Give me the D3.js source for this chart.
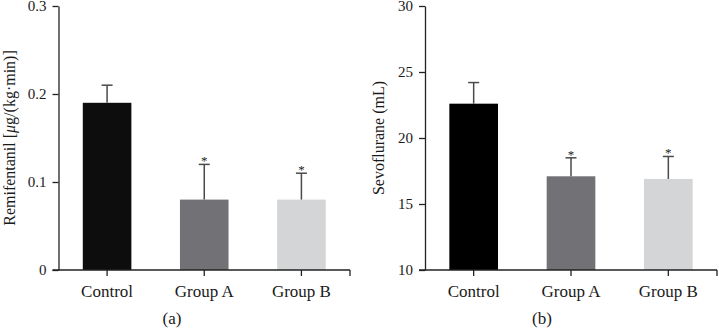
<!DOCTYPE html>
<html>
<head>
<meta charset="utf-8">
<script src="https://cdn.jsdelivr.net/npm/d3@7"></script>
<style>
  html, body { margin: 0; padding: 0; background: #fff; }
  svg { display: block; }
  text { font-family: "Liberation Serif", "Times New Roman", serif; fill: #1a1a1a; }
</style>
</head>
<body>
<svg id="chart" width="719" height="328"></svg>
<script>
// ---- data ----
const categories = ["Control", "Group A", "Group B"];
const remiMeans = [0.19, 0.08, 0.08];
const remiErrors = [0.02, 0.04, 0.03];
const remiSig = [false, true, true];
const remiTicks = [0, 0.1, 0.2, 0.3];
const sevoMeans = [22.6, 17.1, 16.9];
const sevoErrors = [1.6, 1.4, 1.7];
const sevoSig = [false, true, true];
const sevoTicks = [10, 15, 20, 25, 30];
const barColors = ["#0d0d0d", "#727276", "#d4d5d7"];

const svg = d3.select("#chart");

function panel(opts) {
  const g = svg.append("g");
  const x = d3.scaleBand().domain(categories).range([opts.x0, opts.x1])
    .paddingInner(0.5).paddingOuter(0.25);
  const y = d3.scaleLinear().domain(opts.domain).range([270, 6]);

  // bars
  g.selectAll("rect.bar").data(categories).join("rect")
    .attr("x", d => x(d))
    .attr("width", x.bandwidth())
    .attr("y", (d, i) => y(opts.means[i]))
    .attr("height", (d, i) => y(opts.domain[0]) - y(opts.means[i]))
    .attr("fill", (d, i) => opts.colors[i]);

  // error bars (upper only)
  const eb = g.selectAll("g.err").data(categories).join("g");
  eb.append("line")
    .attr("x1", d => x(d) + x.bandwidth() / 2)
    .attr("x2", d => x(d) + x.bandwidth() / 2)
    .attr("y1", (d, i) => y(opts.means[i]))
    .attr("y2", (d, i) => y(opts.means[i] + opts.errs[i]))
    .attr("stroke", "#4a4a4a").attr("stroke-width", 1.5);
  eb.append("line")
    .attr("x1", d => x(d) + x.bandwidth() / 2 - 5.5)
    .attr("x2", d => x(d) + x.bandwidth() / 2 + 5.5)
    .attr("y1", (d, i) => y(opts.means[i] + opts.errs[i]))
    .attr("y2", (d, i) => y(opts.means[i] + opts.errs[i]))
    .attr("stroke", "#4a4a4a").attr("stroke-width", 1.5);
  eb.filter((d, i) => opts.sig[i]).append("text")
    .attr("x", d => x(d) + x.bandwidth() / 2)
    .attr("y", d => { const i = categories.indexOf(d); return y(opts.means[i] + opts.errs[i]) + 1; })
    .attr("text-anchor", "middle")
    .attr("font-size", 13)
    .attr("fill", "#222")
    .text("*");

  // y axis
  const ya = g.append("g").attr("transform", `translate(${opts.x0},0)`)
    .call(d3.axisLeft(y).tickValues(opts.ticks).tickSize(6).tickSizeOuter(0)
      .tickPadding(6).tickFormat(opts.fmt));
  ya.select(".domain").attr("stroke", "#222").attr("stroke-width", 1.3);
  ya.selectAll(".tick line").attr("stroke", "#222").attr("stroke-width", 1.3);
  ya.selectAll(".tick text").attr("font-size", 15)
    .attr("font-family", "Liberation Serif, serif").attr("fill", "#1a1a1a");

  // x axis
  const xa = g.append("g").attr("transform", `translate(0,270)`)
    .call(d3.axisBottom(x).tickSize(6).tickSizeOuter(0).tickPadding(9));
  xa.select(".domain").remove();
  xa.append("line").attr("x1", opts.x0 - 6).attr("x2", opts.x1)
    .attr("y1", 0).attr("y2", 0).attr("stroke", "#222").attr("stroke-width", 1.3);
  xa.append("line").attr("x1", opts.x1).attr("x2", opts.x1)
    .attr("y1", 0).attr("y2", 6).attr("stroke", "#222").attr("stroke-width", 1.3);
  xa.selectAll(".tick line").attr("stroke", "#222").attr("stroke-width", 1.3);
  xa.selectAll(".tick text").attr("font-size", 17)
    .attr("font-family", "Liberation Serif, serif").attr("fill", "#1a1a1a");

  // y label
  const yl = g.append("text")
    .attr("transform", `translate(${opts.labelX},138) rotate(-90)`)
    .attr("text-anchor", "middle").attr("font-size", 16);
  opts.label(yl);

  // panel letter
  g.append("text").attr("x", opts.letterX).attr("y", 324)
    .attr("text-anchor", "middle").attr("font-size", 17).text(opts.letter);
}

panel({
  x0: 58.5, x1: 350, domain: [0, 0.3], ticks: remiTicks,
  fmt: d => d === 0 ? "0" : d3.format(".1f")(d),
  means: remiMeans, errs: remiErrors, sig: remiSig, colors: barColors,
  labelX: 15, letterX: 172, letter: "(a)",
  label: t => {
    t.append("tspan").text("Remifentanil [");
    t.append("tspan").attr("font-style", "italic").text("μ");
    t.append("tspan").text("g/(kg·min)]");
  }
});

panel({
  x0: 425, x1: 717, domain: [10, 30], ticks: sevoTicks,
  fmt: d3.format("d"),
  means: sevoMeans, errs: sevoErrors, sig: sevoSig,
  colors: ["#000000", barColors[1], barColors[2]],
  labelX: 384, letterX: 542, letter: "(b)",
  label: t => t.text("Sevoflurane (mL)")
});
</script>
</body>
</html>
